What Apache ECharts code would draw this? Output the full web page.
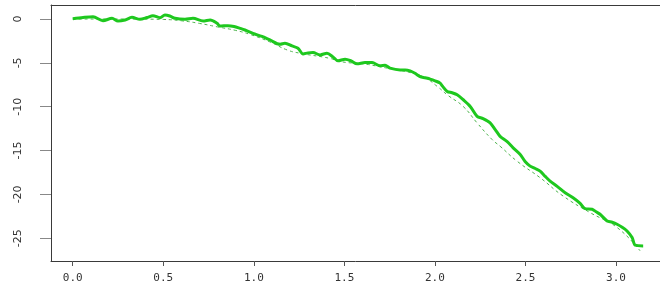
<!DOCTYPE html>
<html>
<head>
<meta charset="utf-8">
<script src="https://cdn.jsdelivr.net/npm/echarts@6/dist/echarts.min.js"></script>
<style>html,body{margin:0;padding:0;background:#fff}#c{width:660px;height:284px}</style>
</head>
<body>
<div id="c"></div>
<script>
// Observed (solid) series
var solidX = [0.00,0.057,0.112,0.167,0.217,0.250,0.289,0.327,0.371,0.41,0.443,0.482,0.509,0.536,0.565,0.620,0.664,0.720,0.759,0.797,0.813,0.857,0.891,0.924,0.951,0.995,1.045,1.089,1.145,1.172,1.211,1.244,1.272,1.299,1.327,1.366,1.404,1.437,1.465,1.504,1.537,1.570,1.614,1.653,1.697,1.725,1.752,1.808,1.836,1.863,1.890,1.918,1.946,1.974,2.001,2.029,2.040,2.068,2.095,2.123,2.156,2.195,2.233,2.266,2.305,2.333,2.360,2.399,2.432,2.471,2.498,2.526,2.554,2.581,2.609,2.636,2.675,2.719,2.763,2.802,2.829,2.868,2.890,2.912,2.951,2.979,3.006,3.034,3.061,3.089,3.106,3.150];
var solidY = [0.03,0.17,0.26,-0.19,0.08,-0.23,-0.11,0.19,-0.03,0.17,0.38,0.15,0.45,0.34,0.08,-0.03,0.08,-0.23,-0.11,-0.49,-0.80,-0.76,-0.85,-1.06,-1.25,-1.63,-1.99,-2.39,-2.88,-2.76,-3.07,-3.33,-3.98,-3.86,-3.83,-4.09,-3.90,-4.32,-4.77,-4.58,-4.77,-5.11,-4.97,-4.97,-5.34,-5.28,-5.60,-5.80,-5.80,-5.91,-6.19,-6.56,-6.70,-6.85,-7.05,-7.31,-7.61,-8.26,-8.41,-8.64,-9.20,-9.97,-11.10,-11.36,-11.85,-12.61,-13.38,-13.98,-14.69,-15.45,-16.25,-16.78,-17.05,-17.35,-17.95,-18.49,-19.09,-19.81,-20.38,-21.02,-21.63,-21.70,-21.99,-22.27,-23.03,-23.18,-23.41,-23.75,-24.17,-24.92,-25.80,-25.88];
// Fitted (dashed) series
var fitX = [0.00,0.30,0.50,0.60,0.70,0.80,0.90,0.980,1.089,1.183,1.255,1.421,1.476,1.625,1.697,1.863,1.946,2.013,2.073,2.156,2.233,2.316,2.360,2.454,2.581,2.708,2.857,3.006,3.133];
var fitY = [0.00,0.00,-0.05,-0.20,-0.50,-0.90,-1.30,-1.76,-2.61,-3.52,-3.90,-4.49,-4.85,-5.17,-5.45,-6.10,-6.70,-7.69,-8.72,-9.97,-11.85,-13.75,-14.51,-16.22,-18.10,-20.19,-22.08,-23.78,-26.44];
var xTicks = [0,0.5,1.0,1.5,2.0,2.5,3.0];
var yTicks = [-25,-20,-15,-10,-5,0];

function zip(a,b){return a.map(function(v,i){return [v,b[i]];});}

var chart = echarts.init(document.getElementById('c'), null, {renderer:'canvas'});
var axisCol = '#3a3a3a';
chart.setOption({
  animation:false,
  backgroundColor:'#fff',
  grid:{left:51, top:5, right:0, bottom:22},
  xAxis:[{
    type:'value', min:-0.12, max:3.243, position:'bottom',
    axisLine:{show:true, onZero:false, lineStyle:{color:axisCol, width:1}},
    axisTick:{show:true, length:5, customValues:xTicks, lineStyle:{color:'#555'}},
    axisLabel:{customValues:xTicks, formatter:function(v){return v.toFixed(1);}, margin:12,
      fontFamily:'DejaVu Sans Mono', fontSize:11, color:'#333'},
    splitLine:{show:false}
  },{
    type:'value', min:-0.12, max:3.243, position:'top',
    axisLine:{show:true, onZero:false, lineStyle:{color:axisCol, width:1}},
    axisTick:{show:false}, axisLabel:{show:false}, splitLine:{show:false}
  }],
  yAxis:{
    type:'value', min:-27.6, max:1.6,
    axisLine:{show:true, onZero:false, lineStyle:{color:axisCol, width:1}},
    axisTick:{show:true, length:11, customValues:yTicks, lineStyle:{color:'#888'}},
    axisLabel:{customValues:yTicks, rotate:90, margin:27, fontFamily:'DejaVu Sans', fontSize:11, color:'#333'},
    splitLine:{show:false}
  },
  series:[{
    type:'line', data:zip(fitX,fitY), smooth:true, symbol:'none', xAxisIndex:0,
    lineStyle:{color:'#4cb44c', width:1, type:[3,3]}, z:1
  },{
    type:'line', data:zip(solidX,solidY), smooth:0.3, symbol:'none', xAxisIndex:0,
    lineStyle:{color:'#1ec81e', width:3}, z:2
  }]
});
</script>
</body>
</html>
